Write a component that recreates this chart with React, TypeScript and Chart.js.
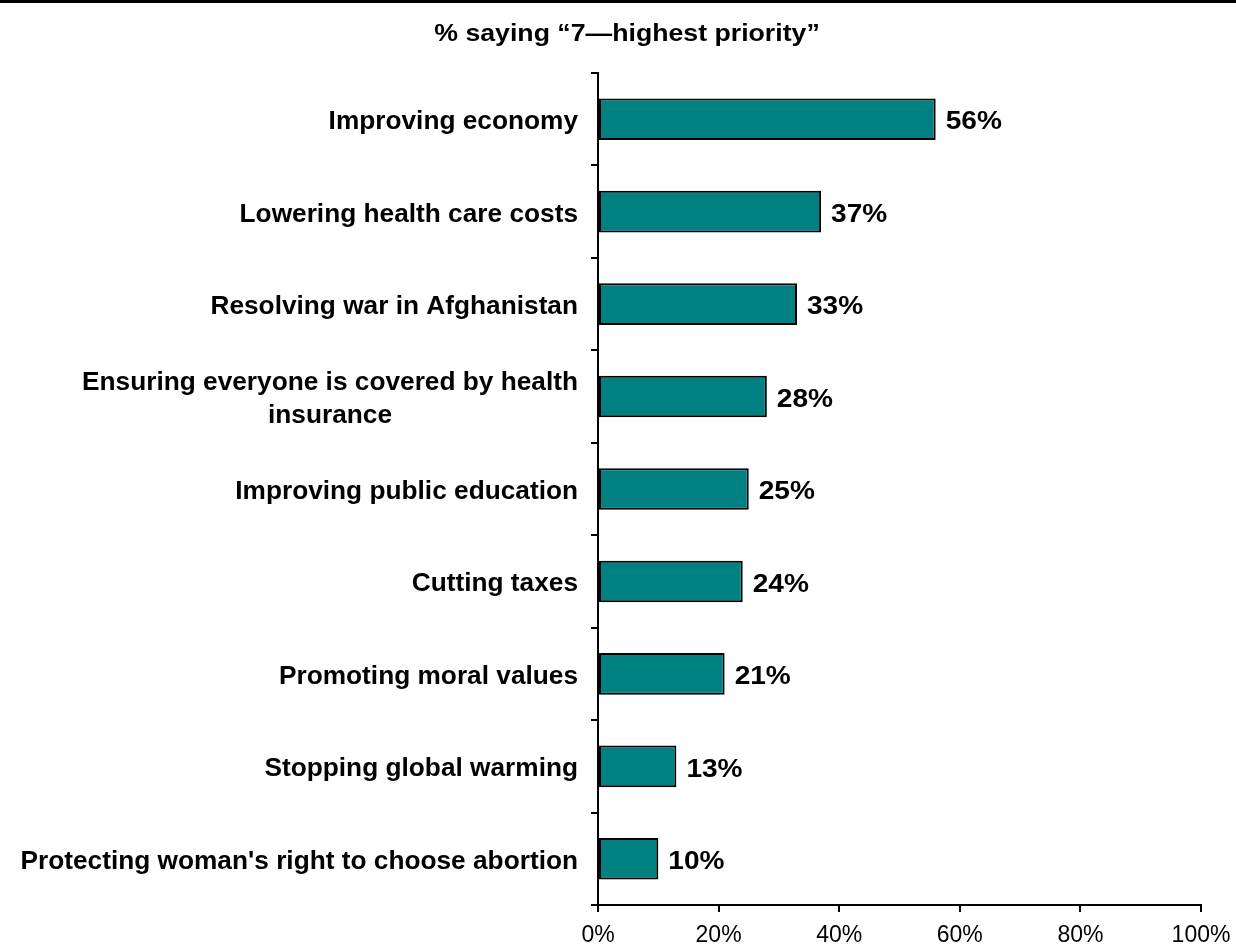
import React, { useEffect, useRef } from "react";
import { Chart, registerables } from "chart.js";

Chart.register(...registerables);

const titleText = "% saying \u201C7\u2014highest priority\u201D";
const categories: (string | string[])[] = [
  "Improving economy",
  "Lowering health care costs",
  "Resolving war in Afghanistan",
  ["Ensuring everyone is covered by health", "insurance"],
  "Improving public education",
  "Cutting taxes",
  "Promoting moral values",
  "Stopping global warming",
  "Protecting woman's right to choose abortion",
];
const values = [56, 37, 33, 28, 25, 24, 21, 13, 10];
const xTicks = [0, 20, 40, 60, 80, 100];

const FONT = "'Liberation Sans', Arial, sans-serif";

function drawScaled(ctx: CanvasRenderingContext2D, text: string, x: number, y: number, align: CanvasTextAlign, sx: number) {
  ctx.save();
  ctx.translate(x, y);
  ctx.scale(sx, 1);
  ctx.textAlign = align;
  ctx.textBaseline = "middle";
  ctx.fillText(text, 0, 0);
  ctx.restore();
}

const textPlugin = {
  id: "customText",
  afterDraw(chart: any) {
    const ctx: CanvasRenderingContext2D = chart.ctx;
    ctx.save();
    ctx.fillStyle = "#000";
    // top rule
    ctx.fillRect(0, 0, chart.width, 3);
    // title
    ctx.font = `bold 23px ${FONT}`;
    drawScaled(ctx, titleText, 627, 35, "center", 1.16);

    // y labels
    const yScale = chart.scales.y;
    const labelRight = 578;
    const sxY = 1.05;
    ctx.font = `bold 25px ${FONT}`;
    categories.forEach((c, i) => {
      const lines = Array.isArray(c) ? c : [c];
      const yc = yScale.getPixelForValue(i);
      const lh = 33;
      let maxW = 0;
      lines.forEach((l) => {
        maxW = Math.max(maxW, ctx.measureText(l).width * sxY);
      });
      const cx = labelRight - maxW / 2;
      lines.forEach((l, j) => {
        const y = yc + (j - (lines.length - 1) / 2) * lh + 3;
        drawScaled(ctx, l, cx, y, "center", sxY);
      });
    });

    // value labels
    const meta = chart.getDatasetMeta(0);
    ctx.font = `bold 26px ${FONT}`;
    meta.data.forEach((bar: any, i: number) => {
      drawScaled(ctx, values[i] + "%", bar.x + 10, bar.y + 3, "left", 1.08);
    });
    ctx.restore();
  },
};

export default function App() {
  const ref = useRef<HTMLCanvasElement>(null);
  useEffect(() => {
    if (!ref.current) return;
    const chart = new Chart(ref.current, {
      type: "bar",
      data: {
        labels: categories as any,
        datasets: [
          {
            data: values,
            backgroundColor: "#008080",
            borderColor: "#000000",
            borderWidth: 2,
            borderSkipped: false,
            barPercentage: 0.45,
            categoryPercentage: 1,
          },
        ],
      },
      options: {
        indexAxis: "y",
        responsive: false,
        animation: false,
        devicePixelRatio: 1,
        layout: { padding: { top: 73, right: 35, left: 0, bottom: 0 } },
        plugins: {
          legend: { display: false },
          title: { display: false },
          tooltip: { enabled: false },
        },
        scales: {
          x: {
            type: "linear",
            min: 0,
            max: 100,
            afterFit: (s: any) => {
              s.height = 46;
              s.paddingLeft = 0;
              s.paddingRight = 0;
            },
            afterBuildTicks: (s: any) => {
              s.ticks = xTicks.map((v) => ({ value: v }));
            },
            ticks: {
              color: "#000",
              font: { family: FONT, size: 23 },
              padding: 10,
              maxRotation: 0,
              callback: (v: any) => v + "%",
            },
            grid: {
              drawOnChartArea: false,
              drawTicks: true,
              tickLength: 7,
              color: "#000",
              lineWidth: 2,
            },
            border: { display: true, color: "#000", width: 2 },
          },
          y: {
            type: "category",
            afterFit: (s: any) => {
              s.width = 598;
              s.paddingTop = 0;
              s.paddingBottom = 0;
            },
            ticks: { display: false },
            grid: {
              offset: true,
              drawOnChartArea: false,
              drawTicks: true,
              tickLength: 7,
              color: "#000",
              lineWidth: 2,
            },
            border: { display: true, color: "#000", width: 2 },
          },
        },
      },
      plugins: [textPlugin],
    });
    return () => chart.destroy();
  }, []);
  return (
    <div style={{ position: "absolute", left: 0, top: 0, width: 1236, height: 951, background: "#fff" }}>
      <canvas ref={ref} width={1236} height={951} style={{ display: "block" }} />
    </div>
  );
}
